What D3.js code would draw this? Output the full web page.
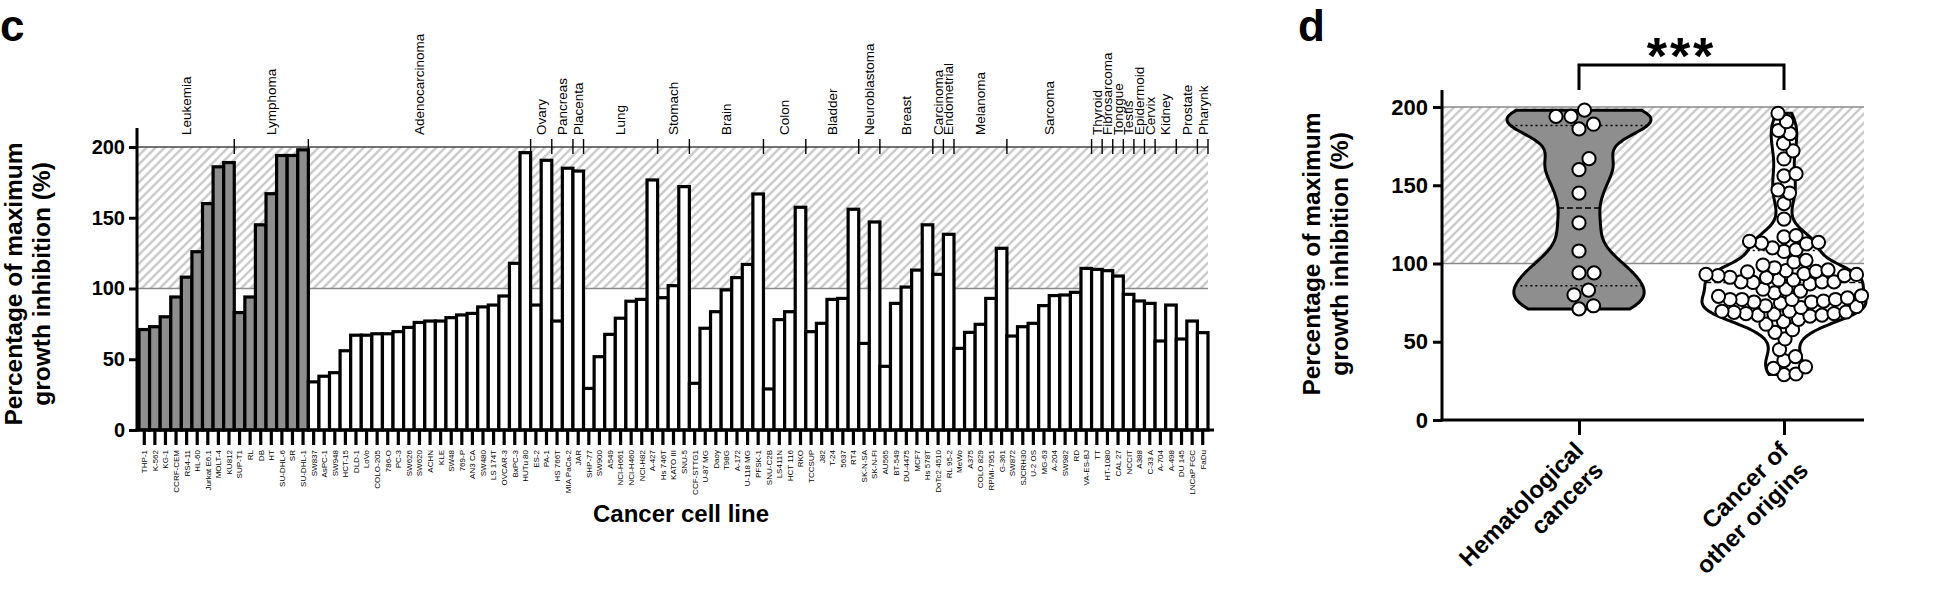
<!DOCTYPE html>
<html><head><meta charset="utf-8">
<script src="https://cdn.jsdelivr.net/npm/d3@7/dist/d3.min.js"></script>
<style>
body{margin:0;background:#fff}
text{font-family:"Liberation Sans",Arial,Helvetica,sans-serif;fill:#000}
</style>
</head><body>
<svg id="chart" width="1952" height="604"></svg>
<script>
// ---------------- DATA ----------------
const cellLines = ["THP-1","K-562","KG-1","CCRF-CEM","RS4-11","HL-60","Jurkat E6.1","MOLT-4","KU812",
"SUP-T1","RL","DB","HT","SU-DHL-6","SR","SU-DHL-1",
"SW837","AsPC-1","SW948","HCT-15","DLD-1","LoVo","COLO-205","786-O","PC-3","SW626","SW620","ACHN","KLE","SW48","769-P","AN3 CA","SW480","LS 174T","OVCAR-3","BxPC-3","HUTu 80",
"ES-2","PA-1","HS 766T","MIA PaCa-2","JAR",
"SHP-77","SW900","A549","NCI-H661","NCI-H460","NCI-H82","A-427",
"Hs 746T","KATO III","SNU-5",
"CCF-STTG1","U-87 MG","Daoy","T98G","A-172","U-118 MG","PFSK-1",
"SNU-C2B","LS411N","HCT 116","RKO",
"TCCSUP","J82","T-24","5637","RT4",
"SK-N-SA","SK-N-FI",
"AU565","BT-549","DU-4475","MCF7","Hs 578T",
"DoTc2 4510","RL 95-2",
"MeWo","A375","COLO 829","RPMI-7951","G-361",
"SW872","SJCRH30","U-2 OS","MG-63","A-204","SW982","RD","VA-ES-BJ",
"TT","HT-1080","CAL 27","NCCIT","A388","C-33 A","A-704","A-498","DU 145","LNCaP FGC","FaDu"];

const inhibition = [71,73,80,94,108,126,160,186,189,
83,94,145,167,194,194,198,
34,38,40.5,56,67,67,68,68,69.5,72.5,76,77,77,79.4,81.3,82.4,87,88.3,94.7,117.8,196,
88.3,190.6,77,185,183,
29.4,51.8,67.6,79,91,92.3,176.7,
93.5,102,172,
33,71.9,83.6,99,107.7,117,166.8,
29,78,83.6,157.4,
69.5,75.4,92.3,93,156,
61.2,147,
45,89.5,101,113,145,
110,138.3,
57.7,69,74.7,93,128.4,
66.4,73,75.4,87.9,95,95.4,97.3,114.2,
113.5,112.6,108.8,95.9,91.2,89.5,62.9,88.3,64.3,77,68.8];

const tissueGroups = ["Leukemia","Lymphoma","Adenocarcinoma","Ovary","Pancreas","Placenta","Lung","Stomach","Brain","Colon","Bladder","Neuroblastoma","Breast","Carcinoma","Endometrial","Melanoma","Sarcoma","Thyroid","Fibrosarcoma","Tonggue","Testis","Epidermoid","Cervix","Kidney","Prostate","Pharynk"];
const groupSizes = [9,7,21,2,2,1,7,3,7,4,5,2,5,1,1,5,8,1,1,1,1,1,1,2,2,1];
const hematologicalGroups = ["Leukemia","Lymphoma"];
const yTickValues = [0,50,100,150,200];
const violinCategories = ["Hematological cancers","Cancer of other origins"];
const violinLabelLines = [["Hematological","cancers"],["Cancer of","other origins"]];
const shadedRange = [100,200];

// ---------------- SETUP ----------------
const svg = d3.select("#chart");
svg.append("rect").attr("width",1952).attr("height",604).attr("fill","#fff");
const defs = svg.append("defs");
const pat = defs.append("pattern").attr("id","hatch").attr("patternUnits","userSpaceOnUse")
  .attr("width",6.4).attr("height",6.4).attr("patternTransform","rotate(45)");
pat.append("rect").attr("width",6.4).attr("height",6.4).attr("fill","#fff");
pat.append("line").attr("x1",3.2).attr("x2",3.2).attr("y1",-1).attr("y2",7.4)
  .attr("stroke","#c6c6c6").attr("stroke-width",2.3);

const groupOf = [];
groupSizes.forEach((n,gi)=>{ for(let k=0;k<n;k++) groupOf.push(tissueGroups[gi]); });
const isHeme = cellLines.map((c,i)=>hematologicalGroups.includes(groupOf[i]));

// ---------------- PANEL C ----------------
const gc = svg.append("g");
const x = d3.scaleBand().domain(cellLines).range([139,1208]).padding(0);
const y = d3.scaleLinear().domain([0,200]).range([430,147]);
const bw = x.bandwidth();

gc.append("rect").attr("x",137).attr("width",1208-137)
  .attr("y",y(shadedRange[1])).attr("height",y(shadedRange[0])-y(shadedRange[1]))
  .attr("fill","url(#hatch)");
gc.append("line").attr("x1",137).attr("x2",1208).attr("y1",y(shadedRange[0])).attr("y2",y(shadedRange[0]))
  .attr("stroke","#8a8a8a").attr("stroke-width",1.4);
gc.append("line").attr("x1",137).attr("x2",1208).attr("y1",y(shadedRange[1])).attr("y2",y(shadedRange[1]))
  .attr("stroke","#444").attr("stroke-width",1.6);

gc.selectAll("rect.bar").data(cellLines).join("rect").attr("class","bar")
  .attr("x",d=>x(d)).attr("width",bw)
  .attr("y",(d,i)=>y(inhibition[i])).attr("height",(d,i)=>y(0)-y(inhibition[i]))
  .attr("fill",(d,i)=>isHeme[i]?"#8e8e8e":"#fff")
  .attr("stroke","#000").attr("stroke-width",3.2);

let cum = 0;
const bounds = [];
groupSizes.forEach((n,gi)=>{
  const start = cum; cum += n;
  bounds.push(cum);
  const cx = x(cellLines[start]) + n*bw/2;
  gc.append("text").attr("transform",`translate(${cx+4.8},135) rotate(-90)`)
    .attr("font-size",13.5).text(tissueGroups[gi]);
});
bounds.forEach(b=>{
  const bx = x.range()[0] + b*bw;
  gc.append("line").attr("x1",bx).attr("x2",bx).attr("y1",139).attr("y2",154)
    .attr("stroke","#000").attr("stroke-width",1.4);
});

const yAxisC = gc.append("g").attr("transform","translate(137,0)")
  .call(d3.axisLeft(y).tickValues(yTickValues).tickSize(8).tickSizeOuter(0).tickPadding(4));
yAxisC.select(".domain").remove();
yAxisC.selectAll(".tick line").attr("stroke","#000").attr("stroke-width",3);
yAxisC.selectAll(".tick text").attr("font-size",20).attr("font-weight","bold")
  .attr("font-family","Liberation Sans, Arial, sans-serif").attr("fill","#000");
gc.append("line").attr("x1",137).attr("x2",137).attr("y1",128).attr("y2",431.5)
  .attr("stroke","#000").attr("stroke-width",3);

const xAxisC = gc.append("g").attr("transform","translate(0,430)")
  .call(d3.axisBottom(x).tickSize(15).tickSizeOuter(0).tickPadding(0));
xAxisC.select(".domain").remove();
xAxisC.selectAll(".tick line").attr("stroke","#000").attr("stroke-width",3.2);
xAxisC.selectAll(".tick text").attr("font-size",8).attr("font-family","Liberation Sans, Arial, sans-serif")
  .attr("fill","#000").attr("text-anchor","end").attr("dy",null)
  .attr("transform","translate(2.9,20) rotate(-90)").attr("x",0).attr("y",0);
gc.append("line").attr("x1",135.5).attr("x2",1214).attr("y1",430).attr("y2",430)
  .attr("stroke","#000").attr("stroke-width",3);

gc.append("text").attr("x",681).attr("y",522).attr("text-anchor","middle")
  .attr("font-size",24).attr("font-weight","bold").text("Cancer cell line");
const ytC = gc.append("text").attr("transform","translate(0,284) rotate(-90)")
  .attr("text-anchor","middle").attr("font-size",24.5).attr("font-weight","bold");
ytC.append("tspan").attr("x",0).attr("y",22).text("Percentage of maximum");
ytC.append("tspan").attr("x",0).attr("y",50).text("growth inhibition (%)");
gc.append("text").attr("x",0).attr("y",41).attr("font-size",44).attr("font-weight","bold").text("c");

// ---------------- PANEL D ----------------
const gd = svg.append("g");
const yd = d3.scaleLinear().domain([0,200]).range([420,107]);
const xd = d3.scalePoint().domain(violinCategories).range([1579,1784]);
const axL = 1442, axR = 1864;

gd.append("rect").attr("x",axL).attr("width",axR-axL)
  .attr("y",yd(shadedRange[1])).attr("height",yd(shadedRange[0])-yd(shadedRange[1]))
  .attr("fill","url(#hatch)");
gd.append("line").attr("x1",axL).attr("x2",axR).attr("y1",yd(shadedRange[0])).attr("y2",yd(shadedRange[0]))
  .attr("stroke","#8a8a8a").attr("stroke-width",1.4);
gd.append("line").attr("x1",axL).attr("x2",axR).attr("y1",yd(shadedRange[1])).attr("y2",yd(shadedRange[1]))
  .attr("stroke","#8a8a8a").attr("stroke-width",1.4);

const groupsD = [
  {cat:violinCategories[0], vals: inhibition.filter((v,i)=>isHeme[i]), fill:"#8e8e8e", h:10, half:72},
  {cat:violinCategories[1], vals: inhibition.filter((v,i)=>!isHeme[i]), fill:"#fff", h:7.5, half:82}
];

function kdeAt(vals,h,v){ return d3.mean(vals,d=>Math.exp(-0.5*((v-d)/h)**2)); }
// quartile with (n+1)p positioning
function quart(sorted,p){
  const pos = (sorted.length+1)*p - 1;
  const lo = Math.max(0,Math.floor(pos)), hi = Math.min(sorted.length-1,lo+1);
  return sorted[lo] + (pos-lo)*(sorted[hi]-sorted[lo]);
}

function swarm(vals, cx, r){
  const pts = vals.map(v=>({v, y:yd(v)})).sort((a,b)=>a.v-b.v);
  const placed = [];
  pts.forEach(p=>{
    let bx = cx;
    for(let k=0;k<800;k++){
      const off = (k%2?1:-1)*Math.ceil(k/2)*0.5;
      const xx = cx+off;
      if(placed.every(q=>(q.x-xx)**2+(q.y-p.y)**2 >= (2*r)**2)){ bx = xx; break; }
    }
    p.x = bx; placed.push(p);
  });
  return placed;
}

groupsD.forEach((g,gi)=>{
  const cx = xd(g.cat);
  const mn = d3.min(g.vals), mx = d3.max(g.vals);
  const grid = d3.range(mn,mx,0.5).concat([mx]).map(v=>[v,kdeAt(g.vals,g.h,v)]);
  const w = d3.scaleLinear().domain([0,d3.max(grid,d=>d[1])]).range([0,g.half]);
  const area = d3.area().y(d=>yd(d[0])).x0(d=>cx-w(d[1])).x1(d=>cx+w(d[1])).curve(d3.curveBasis);
  gd.append("path").attr("d",area(grid)).attr("fill",g.fill).attr("stroke","#000").attr("stroke-width",3)
    .attr("stroke-linejoin","round");
  const sorted = g.vals.slice().sort(d3.ascending);
  [[0.25,"2,3"],[0.5,"6,3"],[0.75,"2,3"]].forEach(([q,dash])=>{
    const qv = quart(sorted,q);
    const hw = w(kdeAt(g.vals,g.h,qv));
    gd.append("line").attr("x1",cx-hw).attr("x2",cx+hw).attr("y1",yd(qv)).attr("y2",yd(qv))
      .attr("stroke","#000").attr("stroke-width",1.5).attr("stroke-dasharray",dash);
  });
  const pts = swarm(g.vals,cx,gi===0?7.4:5.9);
  gd.selectAll(null).data(pts).join("circle")
    .attr("cx",d=>d.x).attr("cy",d=>d.y).attr("r",6.6)
    .attr("fill","#fff").attr("stroke","#000").attr("stroke-width",2);
});

const yAxisD = gd.append("g").attr("transform",`translate(${axL},0)`)
  .call(d3.axisLeft(yd).tickValues(yTickValues).tickSize(9).tickSizeOuter(0).tickPadding(5));
yAxisD.select(".domain").remove();
yAxisD.selectAll(".tick line").attr("stroke","#000").attr("stroke-width",3);
yAxisD.selectAll(".tick text").attr("font-size",22).attr("font-weight","bold")
  .attr("font-family","Liberation Sans, Arial, sans-serif").attr("fill","#000");
gd.append("line").attr("x1",axL).attr("x2",axL).attr("y1",90).attr("y2",421.5)
  .attr("stroke","#000").attr("stroke-width",3);

const xAxisD = gd.append("g").attr("transform","translate(0,420)")
  .call(d3.axisBottom(xd).tickSize(15).tickSizeOuter(0).tickFormat(""));
xAxisD.select(".domain").remove();
xAxisD.selectAll(".tick line").attr("stroke","#000").attr("stroke-width",3);
gd.append("line").attr("x1",axL-1.5).attr("x2",axR).attr("y1",420).attr("y2",420)
  .attr("stroke","#000").attr("stroke-width",3);

violinCategories.forEach((c,i)=>{
  const t = gd.append("text").attr("transform",`translate(${xd(c)+6},452) rotate(-45)`)
    .attr("text-anchor","end").attr("font-size",24).attr("font-weight","bold");
  violinLabelLines[i].forEach((ln,j)=>t.append("tspan").attr("x",0).attr("y",j*28).text(ln));
});

const ytD = gd.append("text").attr("transform","translate(0,254) rotate(-90)")
  .attr("text-anchor","middle").attr("font-size",24.5).attr("font-weight","bold");
ytD.append("tspan").attr("x",0).attr("y",1320).text("Percentage of maximum");
ytD.append("tspan").attr("x",0).attr("y",1348).text("growth inhibition (%)");

const x1 = xd(violinCategories[0]), x2 = xd(violinCategories[1]);
gd.append("path").attr("d",`M${x1},90V65H${x2}V90`).attr("fill","none").attr("stroke","#000").attr("stroke-width",3);
gd.append("text").attr("x",(x1+x2)/2).attr("y",74).attr("text-anchor","middle")
  .attr("font-size",52).attr("font-weight","bold").attr("letter-spacing",3).text("***");

gd.append("text").attr("x",1298).attr("y",41).attr("font-size",44).attr("font-weight","bold").text("d");
</script>
</body></html>
